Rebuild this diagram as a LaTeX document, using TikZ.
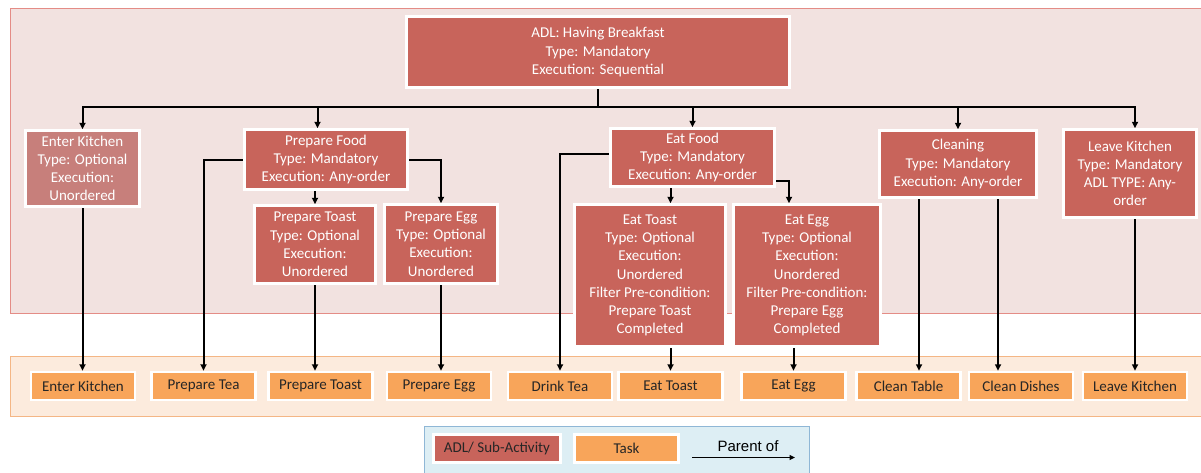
\documentclass[tikz,border=0pt]{standalone}
\usepackage{fontspec}
\setmainfont{Carlito}
\newfontfamily\arialf{Liberation Sans}
\usetikzlibrary{arrows.meta,shadows}
\definecolor{adlred}{HTML}{C8645B}
\definecolor{adlfade}{HTML}{C77F7B}
\definecolor{taskor}{HTML}{F8A55A}
\definecolor{pinkbg}{HTML}{F2E2E0}
\definecolor{pinkbd}{HTML}{E48C86}
\definecolor{orbg}{HTML}{FCEBDD}
\definecolor{orbd}{HTML}{F4B685}
\definecolor{bluebg}{HTML}{DDEEF4}
\definecolor{bluebd}{HTML}{8FB7D6}
\pgfdeclarelayer{bg}
\pgfdeclarelayer{edges}
\pgfsetlayers{bg,edges,main}
\begin{document}
\begin{tikzpicture}[x=1pt,y=-1pt,
  txt/.style={font=\fontsize{15}{18.2}\selectfont},
  adl/.style={txt, rectangle, fill=adlred, draw=white, line width=2.5pt, text=white, align=center, inner sep=0pt,
    drop shadow={shadow xshift=1.3pt,shadow yshift=-1.3pt,opacity=0.3}},
  task/.style={txt, rectangle, fill=taskor, draw=white, line width=2.5pt, text=black!85, inner sep=0pt,
    minimum height=28pt, minimum width=104pt,
    drop shadow={shadow xshift=1.3pt,shadow yshift=-1.3pt,opacity=0.3}},
  arr/.style={line width=2pt, -{Triangle[length=6.5pt,width=6pt]}},
  lgarr/.style={line width=1.5pt, -{Triangle[length=5.5pt,width=5pt]}},
  band/.style={line width=1pt}]
\useasboundingbox (0,0) rectangle (1201,472);

\begin{pgfonlayer}{bg}
  \draw[band, fill=pinkbg, draw=pinkbd] (10,8) rectangle (1215,313);
  \draw[band, fill=orbg, draw=orbd] (10,356) rectangle (1215,416);
  \draw[band, fill=bluebg, draw=bluebd] (424,426) rectangle (809,490);
\end{pgfonlayer}

% ADL / sub-activities
\node[adl, minimum width=383pt, minimum height=71pt] (top) at (598,52) {ADL: Having Breakfast\\Type: Mandatory\\Execution: Sequential};
\node[adl, fill=adlfade, minimum width=114pt, minimum height=76pt] (ek) at (82.5,168.5) {Enter Kitchen\\Type: Optional\\Execution:\\Unordered};
\node[adl, minimum width=163pt, minimum height=60pt] (pf) at (326,159.5) {Prepare Food\\Type: Mandatory\\Execution: Any-order};
\node[adl, minimum width=121pt, minimum height=78pt] (pt) at (315,244.5) {Prepare Toast\\Type: Optional\\Execution:\\Unordered};
\node[adl, minimum width=113pt, minimum height=79pt] (pe) at (441,244) {Prepare Egg\\Type: Optional\\Execution:\\Unordered};
\node[adl, minimum width=164pt, minimum height=58pt] (ef) at (692.5,157.5) {Eat Food\\Type: Mandatory\\Execution: Any-order};
\node[adl, minimum width=151pt, minimum height=142pt] (et) at (650,275.5) {Eat Toast\\Type: Optional\\Execution:\\Unordered\\Filter Pre-condition:\\Prepare Toast\\Completed};
\node[adl, minimum width=147pt, minimum height=142pt] (ee) at (807,275.5) {Eat Egg\\Type: Optional\\Execution:\\Unordered\\Filter Pre-condition:\\Prepare Egg\\Completed};
\node[adl, minimum width=157pt, minimum height=67pt] (cl) at (958,164) {Cleaning\\Type: Mandatory\\Execution: Any-order};
\node[adl, minimum width=133pt, minimum height=88pt] (lk) at (1130,173.5) {Leave Kitchen\\Type: Mandatory\\ADL TYPE: Any-\\order};

% tasks
\node[task] (tek) at (83,386) {Enter Kitchen};
\node[task] (tpt) at (203.5,386) {Prepare Tea};
\node[task] (tptt) at (320.5,386) {Prepare Toast};
\node[task] (tpe) at (439,386) {Prepare Egg};
\node[task] (tdt) at (560,386) {Drink Tea};
\node[task] (tet) at (670.5,386) {Eat Toast};
\node[task] (tee) at (793.5,386) {Eat Egg};
\node[task] (tct) at (908.5,386) {Clean Table};
\node[task] (tcd) at (1021,386) {Clean Dishes};
\node[task] (tlk) at (1135,386) {Leave Kitchen};

% legend
\node[adl, text=black!85, minimum width=127pt, minimum height=28pt] (lgadl) at (497,448.5) {ADL/ Sub-Activity};
\node[task] (lgtask) at (626.5,448.5) {Task};
\coordinate (la) at (692,457.5);
\coordinate (lb) at (795,457.5);
\node[font=\arialf\fontsize{15}{18}\selectfont, inner sep=0pt] (lgtxt) at (748,446) {Parent of};

\coordinate (bus) at (598,107);
\coordinate (pfa) at ([xshift=-8.5pt]pf.north);
\coordinate (lka) at ([xshift=5pt]lk.north);
\coordinate (c1) at ([xshift=-39pt]cl.south);
\coordinate (c2) at ([xshift=40pt]cl.south);
\coordinate (efr) at ([yshift=-23.5pt]ef.east);
\coordinate (efl) at ([yshift=3.5pt]ef.west);
\coordinate (eea) at ([xshift=-18pt]ee.north);

\begin{pgfonlayer}{edges}
  \draw[arr] (top.south) -- (top.south |- bus) -| (ek.north);
  \draw[arr] (top.south) -- (top.south |- bus) -| (pfa);
  \draw[arr] (top.south) -- (top.south |- bus) -| (ef.north);
  \draw[arr] (top.south) -- (top.south |- bus) -| (cl.north);
  \draw[arr] (top.south) -- (top.south |- bus) -| (lka);

  \draw[arr] (pf.west) -| (tpt.north);
  \draw[arr] (pf.east) -| (pe.north);
  \draw[arr] (pf.south -| pt.north) -- (pt.north);
  \draw[arr] (pt.south) -- (pt.south |- tptt.north);
  \draw[arr] (pe.south) -- (pe.south |- tpe.north);
  \draw[arr] (ek.south) -- (ek.south |- tek.north);

  \draw[arr] (efl) -| (tdt.north);
  \draw[arr] (ef.south -| tet.north) -- (et.north -| tet.north);
  \draw[arr] (efr) -| (eea);
  \draw[arr] (et.south -| tet.north) -- (tet.north);
  \draw[arr] (ee.south -| tee.north) -- (tee.north);

  \draw[arr] (c1) -- (c1 |- tct.north);
  \draw[arr] (c2) -- (c2 |- tcd.north);
  \draw[arr] (lk.south -| tlk.north) -- (tlk.north);

  \draw[lgarr] (la) -- (lb);
\end{pgfonlayer}
\end{tikzpicture}
\end{document}
